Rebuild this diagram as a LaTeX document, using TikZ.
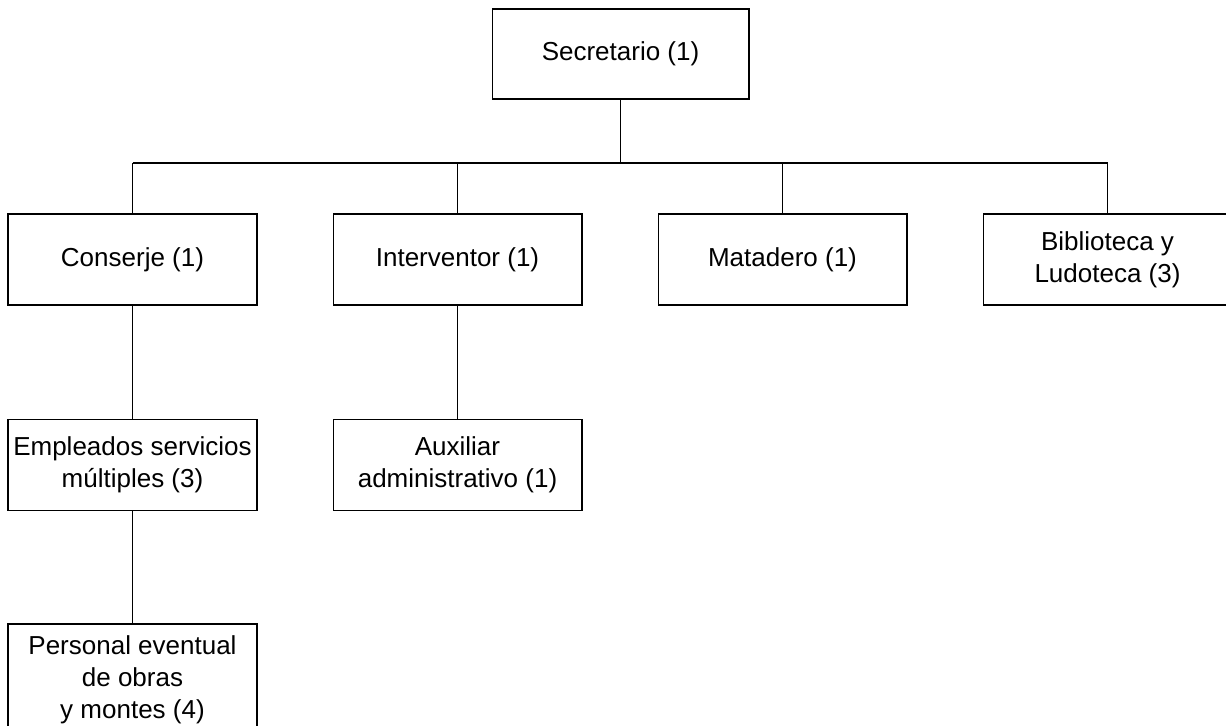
\documentclass[tikz,border=0pt]{standalone}
\usepackage{fontspec}
\setmainfont{Liberation Sans}
\usepackage{tikz}
\usetikzlibrary{positioning}

\begin{document}
\begin{tikzpicture}[
    x=0.02cm, y=-0.02cm,
    box/.style={draw=black, line width=0.6pt, inner sep=0pt, align=center,
                minimum width=4.98cm, minimum height=1.82cm,
                font=\fontsize{14.8}{18.3}\selectfont},
    link/.style={draw=black, line width=0.6pt}
]
\useasboundingbox (0,0) rectangle (1226,726);
% top of the chart
\node[box, minimum width=5.14cm, minimum height=1.8cm] (sec) at (620.5,54) {Secretario (1)};
% second row, one box per service
\node[box] (con) at (132.5,259.5)  {Conserje (1)};
\node[box] (int) at (457.5,259.5)  {Interventor (1)};
\node[box] (mat) at (782.5,259.5)  {Matadero (1)};
\node[box] (bib) at (1107.5,259.5) {Biblioteca y\\Ludoteca (3)};
% staff below conserje and interventor
\node[box] (emp) at (132.5,465) {Empleados servicios\\múltiples (3)};
\node[box] (aux) at (457.5,465) {Auxiliar\\administrativo (1)};
\node[box, minimum height=2.24cm] (per) at (132.5,680) {Personal eventual\\de obras\\y montes (4)};
% horizontal bus under the secretario
\coordinate (bus) at (620.5,163);
\draw[link] (sec) -- (bus);
\draw[link] (con.north |- bus) -- (bib.north |- bus);
\foreach \n in {con,int,mat,bib}
    \draw[link] (\n.north) -- (\n.north |- bus);
% vertical chains
\draw[link] (con) -- (emp);
\draw[link] (emp) -- (per);
\draw[link] (int) -- (aux);
\end{tikzpicture}
\end{document}
